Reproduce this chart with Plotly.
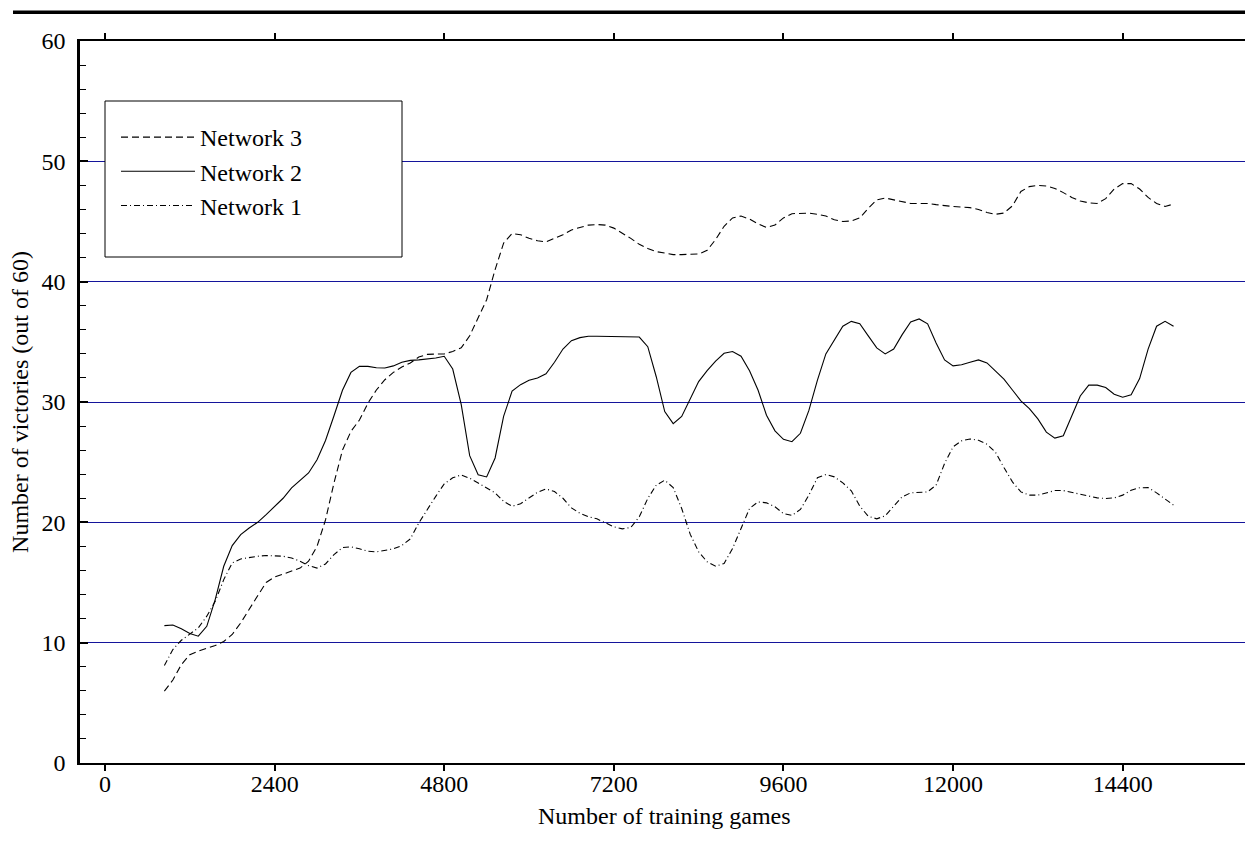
import plotly.graph_objects as go

# Training games (every 120 games from 840 to 15120)
games = list(range(840, 15121, 120))

network3 = [
    5.97, 6.9, 8.18, 9.0, 9.3, 9.5, 9.76, 10.1, 10.68, 11.64,
    12.8, 13.9, 15.0, 15.46, 15.7, 15.94, 16.2, 16.77, 18.0, 20.2,
    23.27, 26.0, 27.56, 28.5, 29.9, 31.0, 31.85, 32.46, 32.9, 33.24,
    33.74, 33.96, 34.0, 34.0, 34.2, 34.5, 35.5, 37.0, 38.5, 41.0,
    43.2, 44.0, 43.9, 43.6, 43.4, 43.3, 43.6, 43.9, 44.3, 44.5,
    44.7, 44.75, 44.7, 44.45, 44.05, 43.6, 43.1, 42.75, 42.5, 42.35,
    42.25, 42.25, 42.25, 42.3, 42.6, 43.5, 44.6, 45.3, 45.45, 45.2,
    44.8, 44.5, 44.7, 45.3, 45.65, 45.7, 45.7, 45.6, 45.45, 45.15,
    45.0, 45.05, 45.3, 46.1, 46.8, 46.95, 46.8, 46.65, 46.5, 46.5,
    46.5, 46.4, 46.3, 46.25, 46.2, 46.15, 46.0, 45.75, 45.6, 45.7,
    46.3, 47.5, 47.9, 48.0, 47.95, 47.75, 47.4, 47.0, 46.7, 46.55,
    46.5, 46.9, 47.7, 48.15, 48.15, 47.7, 47.0, 46.5, 46.25, 46.45,
]

network2 = [
    11.42, 11.47, 11.15, 10.76, 10.54, 11.36, 13.6, 16.35, 18.07, 18.98,
    19.53, 20.0, 20.64, 21.33, 22.0, 22.86, 23.49, 24.1, 25.2, 26.8,
    28.86, 30.97, 32.46, 32.96, 32.96, 32.85, 32.82, 33.0, 33.3, 33.46,
    33.5, 33.57, 33.65, 33.8, 32.74, 29.8, 25.54, 23.96, 23.77, 25.35,
    28.8, 30.9, 31.44, 31.8, 32.0, 32.35, 33.3, 34.4, 35.1, 35.35,
    35.46, 35.46, 35.46, 35.46, 35.46, 35.46, 35.4, 34.6, 32.1, 29.2,
    28.2, 28.8, 30.3, 31.7, 32.6, 33.4, 34.05, 34.2, 33.8, 32.6,
    31.0, 28.9, 27.6, 26.9, 26.7, 27.4, 29.3, 31.8, 34.0, 35.2,
    36.3, 36.7, 36.5, 35.5, 34.5, 34.0, 34.4, 35.6, 36.65, 36.9,
    36.5, 34.9, 33.5, 33.0, 33.1, 33.3, 33.5, 33.25, 32.6, 31.9,
    31.0, 30.1, 29.45, 28.6, 27.5, 27.0, 27.2, 28.8, 30.5, 31.4,
    31.4, 31.2, 30.65, 30.4, 30.6, 31.95, 34.4, 36.3, 36.7, 36.3,
]

network1 = [
    8.1, 9.43, 10.2, 10.68, 11.23, 12.2, 13.44, 15.24, 16.63, 16.96,
    17.1, 17.18, 17.24, 17.24, 17.18, 17.04, 16.77, 16.4, 16.2, 16.54,
    17.32, 17.9, 17.96, 17.8, 17.6, 17.54, 17.65, 17.8, 18.07, 18.62,
    19.95, 21.1, 22.16, 23.2, 23.7, 23.94, 23.66, 23.27, 22.86, 22.44,
    21.75, 21.33, 21.55, 22.0, 22.5, 22.77, 22.56, 22.0, 21.2, 20.75,
    20.46, 20.29, 19.96, 19.63, 19.46, 19.57, 20.46, 21.98, 23.09, 23.5,
    22.89, 21.15, 19.02, 17.55, 16.72, 16.36, 16.58, 17.83, 19.49, 21.15,
    21.7, 21.62, 21.29, 20.73, 20.57, 21.07, 22.26, 23.7, 23.97, 23.78,
    23.28, 22.62, 21.34, 20.51, 20.29, 20.54, 21.34, 22.12, 22.45, 22.48,
    22.53, 23.09, 24.89, 26.27, 26.77, 26.93, 26.82, 26.49, 25.83, 24.55,
    23.36, 22.53, 22.26, 22.26, 22.45, 22.64, 22.64, 22.5, 22.34, 22.17,
    22.03, 21.98, 22.03, 22.26, 22.67, 22.87, 22.89, 22.45, 21.92, 21.43,
]

x_ticks = [0, 2400, 4800, 7200, 9600, 12000, 14400]
y_ticks = [0, 10, 20, 30, 40, 50, 60]

FONT = "Liberation Serif, Times New Roman, serif"

fig = go.Figure()
series = [
    ("Network 3", network3, "7px,4px"),
    ("Network 2", network2, "solid"),
    ("Network 1", network1, "6px,3px,1px,3px"),
]
for name, vals, dash in series:
    fig.add_trace(go.Scatter(
        x=games, y=vals, mode="lines", name=name, legendgroup=name,
        line=dict(color="black", width=1.1, dash=dash),
    ))

W, H = 1245, 844
L, R, T, B = 80, 0, 41, 81
pw, ph = W - L - R, H - T - B

def px_x(p):
    return (p - L) / pw

def px_y(p):
    return (H - B - p) / ph

fig.update_layout(
    width=W, height=H,
    margin=dict(l=L, r=R, t=T, b=B, autoexpand=False),
    paper_bgcolor="white", plot_bgcolor="white",
    font=dict(family=FONT, size=24, color="black"),
    showlegend=True,
    legend=dict(
        x=px_x(116), y=px_y(115), xanchor="left", yanchor="top",
        bgcolor="rgba(0,0,0,0)", borderwidth=0,
        font=dict(family=FONT, size=24, color="black"),
        itemwidth=74, tracegroupgap=6, traceorder="normal",
    ),
    xaxis=dict(
        range=[-354, 16131], tickvals=x_ticks, ticktext=[str(v) for v in x_ticks],
        showline=True, linecolor="black", linewidth=2, mirror="ticks",
        ticks="outside", ticklen=6, tickwidth=2, tickcolor="black",
        showgrid=False, zeroline=False, ticklabelstandoff=-8,
    ),
    xaxis2=dict(
        range=[-354, 16131], tickvals=x_ticks, overlaying="x", anchor="y",
        showline=False, mirror="ticks", ticks="inside", ticklen=5,
        tickwidth=2, tickcolor="black", showticklabels=False,
        showgrid=False, zeroline=False,
    ),
    yaxis=dict(
        range=[0, 60], tickvals=y_ticks,
        showline=True, linecolor="black", linewidth=2.5, mirror=False,
        ticks="inside", ticklen=8, tickwidth=2, tickcolor="black",
        minor=dict(dtick=2, ticks="inside", ticklen=6, tickwidth=1.2,
                   tickcolor="black", showgrid=False),
        showgrid=True, gridcolor="#14149b", gridwidth=1,
        zeroline=False, ticklabelstandoff=7,
        title=dict(text="Number of victories (out of 60)", standoff=7,
                   font=dict(family=FONT, size=24)),
    ),
    annotations=[
        dict(text="Number of training games", xref="paper", yref="paper",
             x=px_x(664), y=px_y(816), xanchor="center", yanchor="middle",
             showarrow=False, font=dict(family=FONT, size=24, color="black")),
    ],
    shapes=[
        dict(type="rect", xref="paper", yref="paper",
             x0=px_x(105), x1=px_x(402), y0=px_y(257), y1=px_y(101),
             line=dict(color="black", width=1), fillcolor="white", layer="above"),
        dict(type="line", xref="paper", yref="paper",
             x0=px_x(13), x1=1.0, y0=px_y(12.3), y1=px_y(12.3),
             line=dict(color="black", width=3.5)),
    ],
)

fig.write_html("out.html", config={"displayModeBar": False},
               post_script="document.body.style.margin='0px';")
